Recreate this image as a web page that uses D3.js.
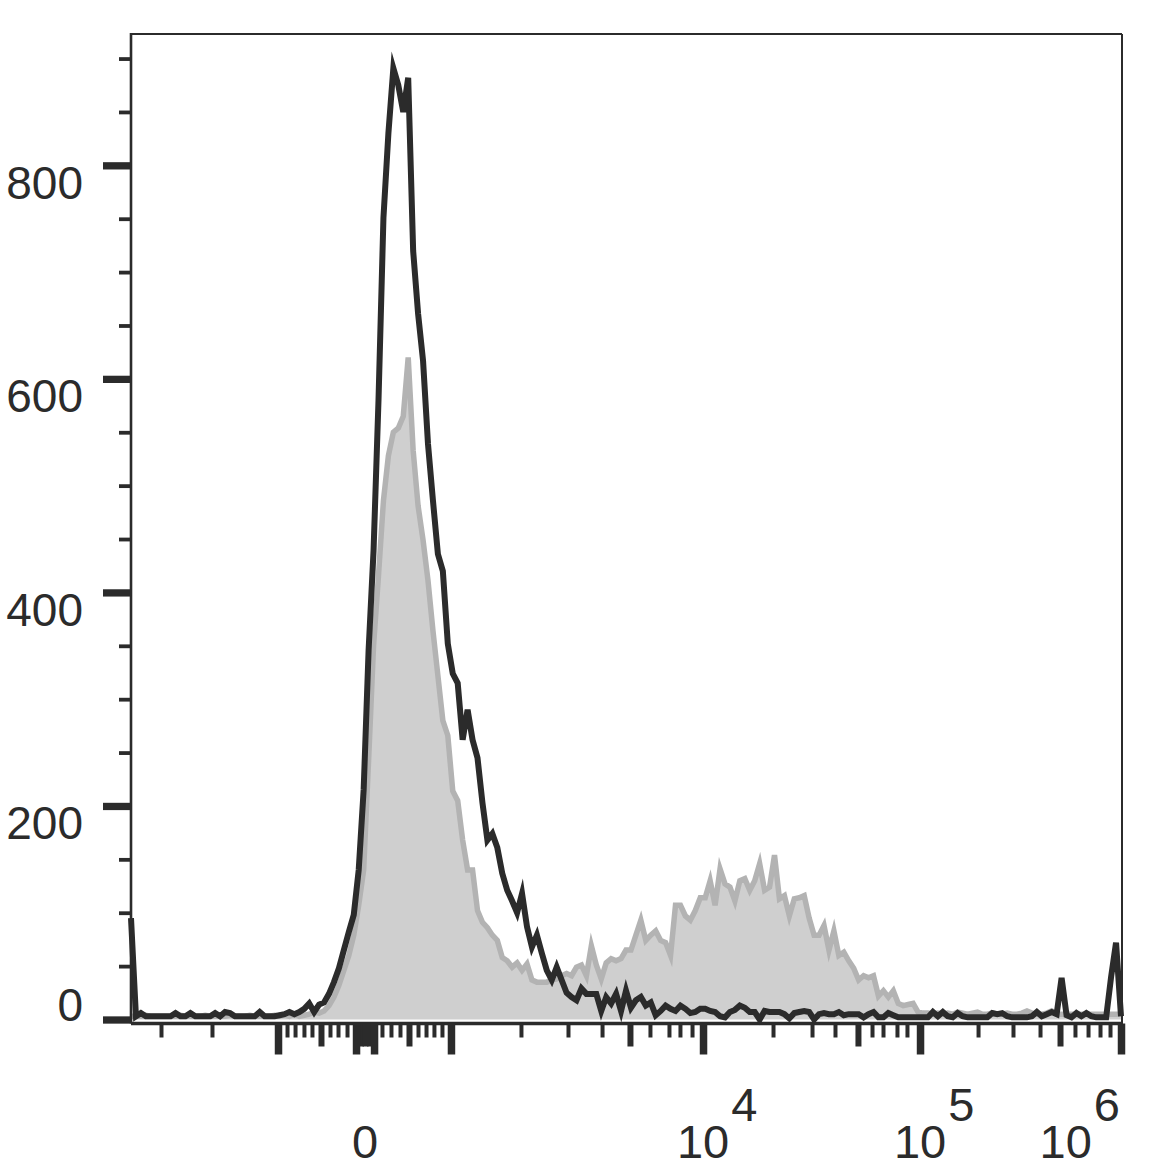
<!DOCTYPE html>
<html><head><meta charset="utf-8">
<script src="https://cdn.jsdelivr.net/npm/d3@7"></script>
<style>body{margin:0;background:#fff}svg{display:block}</style>
</head><body>
<svg id="chart" width="1169" height="1170"></svg>
<script>
// ---- data (display-channel space 0..1000, bins every 5 channels) ----
const binWidth = 5;
const stainedCounts = [
  95,3,6,3,3,3,3,3,3,6,
  3,3,6,3,3,3,3,6,3,7,
  6,3,3,3,3,3,7,3,3,3,
  4,5,7,5,7,10,15,7,14,16,
  24,35,48,65,82,98,140,215,346,439,
  580,751,830,891,875,850,882,720,661,617,
  539,486,436,420,352,324,315,262,290,262,
  245,203,168,174,161,137,121,111,100,118,
  87,68,79,62,46,37,49,37,25,21,
  18,29,24,24,24,8,21,15,24,8,
  27,11,18,21,13,16,4,8,13,10,
  8,13,10,6,7,10,10,8,7,3,
  2,7,9,13,11,7,7,0,8,7,
  7,7,5,1,6,7,8,7,0,5,
  6,5,5,7,4,5,5,5,2,5,
  7,2,2,6,4,2,2,2,2,2,
  2,2,7,3,7,3,2,6,3,2,
  2,2,2,2,6,5,6,3,2,2,
  2,2,3,7,3,5,7,5,39,4,
  2,6,3,6,3,2,2,2,40,72,
  3
];
const controlCounts = [
  3,3,3,4,3,3,3,3,3,3,
  4,3,3,3,3,4,3,3,3,3,
  4,3,3,3,4,3,3,3,3,4,
  3,4,3,5,3,4,5,7,6,8,
  13,21,32,46,60,79,107,140,243,350,
  416,486,528,550,554,565,620,533,481,449,
  411,364,322,280,266,214,205,168,140,140,
  102,91,86,79,74,58,55,49,53,46,
  52,37,35,35,35,37,38,41,43,41,
  49,51,41,69,51,38,53,57,55,57,
  65,65,79,93,74,79,83,74,72,60,
  107,107,97,93,102,114,114,130,107,141,
  127,124,111,130,132,121,130,146,121,124,
  154,113,116,97,113,114,116,95,79,79,
  88,65,83,60,63,55,48,37,41,39,
  41,22,27,21,27,15,13,14,15,7,
  6,6,5,6,5,6,5,7,6,5,
  6,7,5,5,6,5,5,6,5,5,
  6,8,6,5,5,6,8,5,5,5,
  5,5,5,5,5,5,5,5,5,5,
  5
];
const yMajorTicks = [0, 200, 400, 600, 800];
const yMinorTicks = [50,100,150,250,300,350,450,500,550,650,700,750,850,900];
// x tick positions in display channels (biexponential axis), with kind
const xMajorTicks  = [148.5, 227.3, 245.5, 323.2, 577.8, 797.0, 1000];
const xMediumTicks = [191.9, 231.8, 236.4, 240.9, 280.8, 504.0, 734.3, 938.4];
const xMinorTicks  = [30.3, 81.8, 157.6, 165.7, 174.7, 182.8, 201.0, 209.1, 218.2,
  253.5, 262.6, 271.7, 289.9, 298.0, 306.0, 314.1,
  393.9, 441.4, 475.8, 524.2, 543.4, 554.5, 566.7,
  648.5, 687.9, 711.1, 748.5, 759.6, 773.7, 783.8,
  855.6, 890.9, 918.2, 953.5, 966.7, 978.8, 988.9];
const xLabelChannels = [236.4, 577.8, 797.0, 1000];
const xLabelBase = ["0", "10", "10", "10"];
const xLabelExp  = ["", "4", "5", "6"];

// ---- layout ----
const svg = d3.select("#chart");
const L = 131, R = 1122, T = 34, B = 1023.5;
const ink = "#2b2b2b";
const font = "'Liberation Sans', Arial, sans-serif";

const x = d3.scaleLinear().domain([0, 1000]).range([131, 1121]);
const y = d3.scaleLinear().domain([0, 923]).range([1019.5, T]);

const stained = stainedCounts.map((v, i) => ({c: i * binWidth, v}));
const control = controlCounts.map((v, i) => ({c: i * binWidth, v}));

// control: filled grey
svg.append("path").datum(control)
  .attr("d", d3.area().x(d => x(d.c)).y0(y(0)).y1(d => y(d.v)))
  .attr("fill", "#cfcfcf");
svg.append("path").datum(control)
  .attr("d", d3.line().x(d => x(d.c)).y(d => y(d.v)))
  .attr("fill", "none").attr("stroke", "#b3b3b3").attr("stroke-width", 5.5)
  .attr("stroke-linejoin", "miter").attr("stroke-miterlimit", 6);

// stained: black outline
svg.append("path").datum(stained)
  .attr("d", d3.line().x(d => x(d.c)).y(d => y(d.v)))
  .attr("fill", "none").attr("stroke", ink).attr("stroke-width", 6)
  .attr("stroke-linejoin", "miter").attr("stroke-miterlimit", 6);

// frame
svg.append("line").attr("x1", L).attr("x2", R).attr("y1", T).attr("y2", T)
  .attr("stroke", ink).attr("stroke-width", 2);
svg.append("line").attr("x1", R).attr("x2", R).attr("y1", T).attr("y2", B)
  .attr("stroke", ink).attr("stroke-width", 2);
svg.append("line").attr("x1", L).attr("x2", L).attr("y1", T - 1).attr("y2", B)
  .attr("stroke", ink).attr("stroke-width", 2.6);
svg.append("line").attr("x1", L).attr("x2", R + 1).attr("y1", B).attr("y2", B)
  .attr("stroke", ink).attr("stroke-width", 3.5);

// y axis
function styleAxis(g, w) {
  g.select(".domain").remove();
  g.selectAll(".tick line").attr("stroke", ink).attr("stroke-width", w);
}
svg.append("g").attr("transform", `translate(${L},0)`)
  .call(d3.axisLeft(y).tickValues(yMinorTicks).tickSize(12).tickFormat(""))
  .call(g => styleAxis(g, 3.8));
const yMaj = svg.append("g").attr("transform", `translate(${L},0)`)
  .call(d3.axisLeft(y).tickValues(yMajorTicks).tickSize(28).tickPadding(20).tickFormat(d3.format("d")))
  .call(g => styleAxis(g, 7.3));
yMaj.selectAll(".tick text")
  .attr("fill", ink).attr("font-family", font).attr("font-size", 46)
  .attr("dy", d => d === 0 ? "0.02em" : "0.71em");

// x axis
function xAxisLayer(vals, size, w) {
  svg.append("g").attr("transform", `translate(0,${B})`)
    .call(d3.axisBottom(x).tickValues(vals).tickSize(size).tickSizeOuter(0).tickFormat(""))
    .call(g => styleAxis(g, w));
}
xAxisLayer(xMinorTicks, 14, 4);
xAxisLayer(xMediumTicks, 23, 6);
xAxisLayer(xMajorTicks, 31, 7.5);

// x labels (base + superscript exponent)
xLabelChannels.forEach((c, i) => {
  const g = svg.append("g").attr("transform", `translate(${x(c)},0)`);
  const base = g.append("text").text(xLabelBase[i])
    .attr("x", 0).attr("y", 1158).attr("text-anchor", "middle")
    .attr("fill", ink).attr("font-family", font).attr("font-size", 47);
  if (xLabelExp[i]) {
    const w = base.node().getComputedTextLength();
    g.append("text").text(xLabelExp[i])
      .attr("x", w / 2 + 2).attr("y", 1121)
      .attr("fill", ink).attr("font-family", font).attr("font-size", 47);
  }
  const bb = g.node().getBBox();
  const right = x(c) + bb.x + bb.width;
  if (right > 1120) g.attr("transform", `translate(${x(c) - (right - 1120)},0)`);
});
</script>
</body></html>
